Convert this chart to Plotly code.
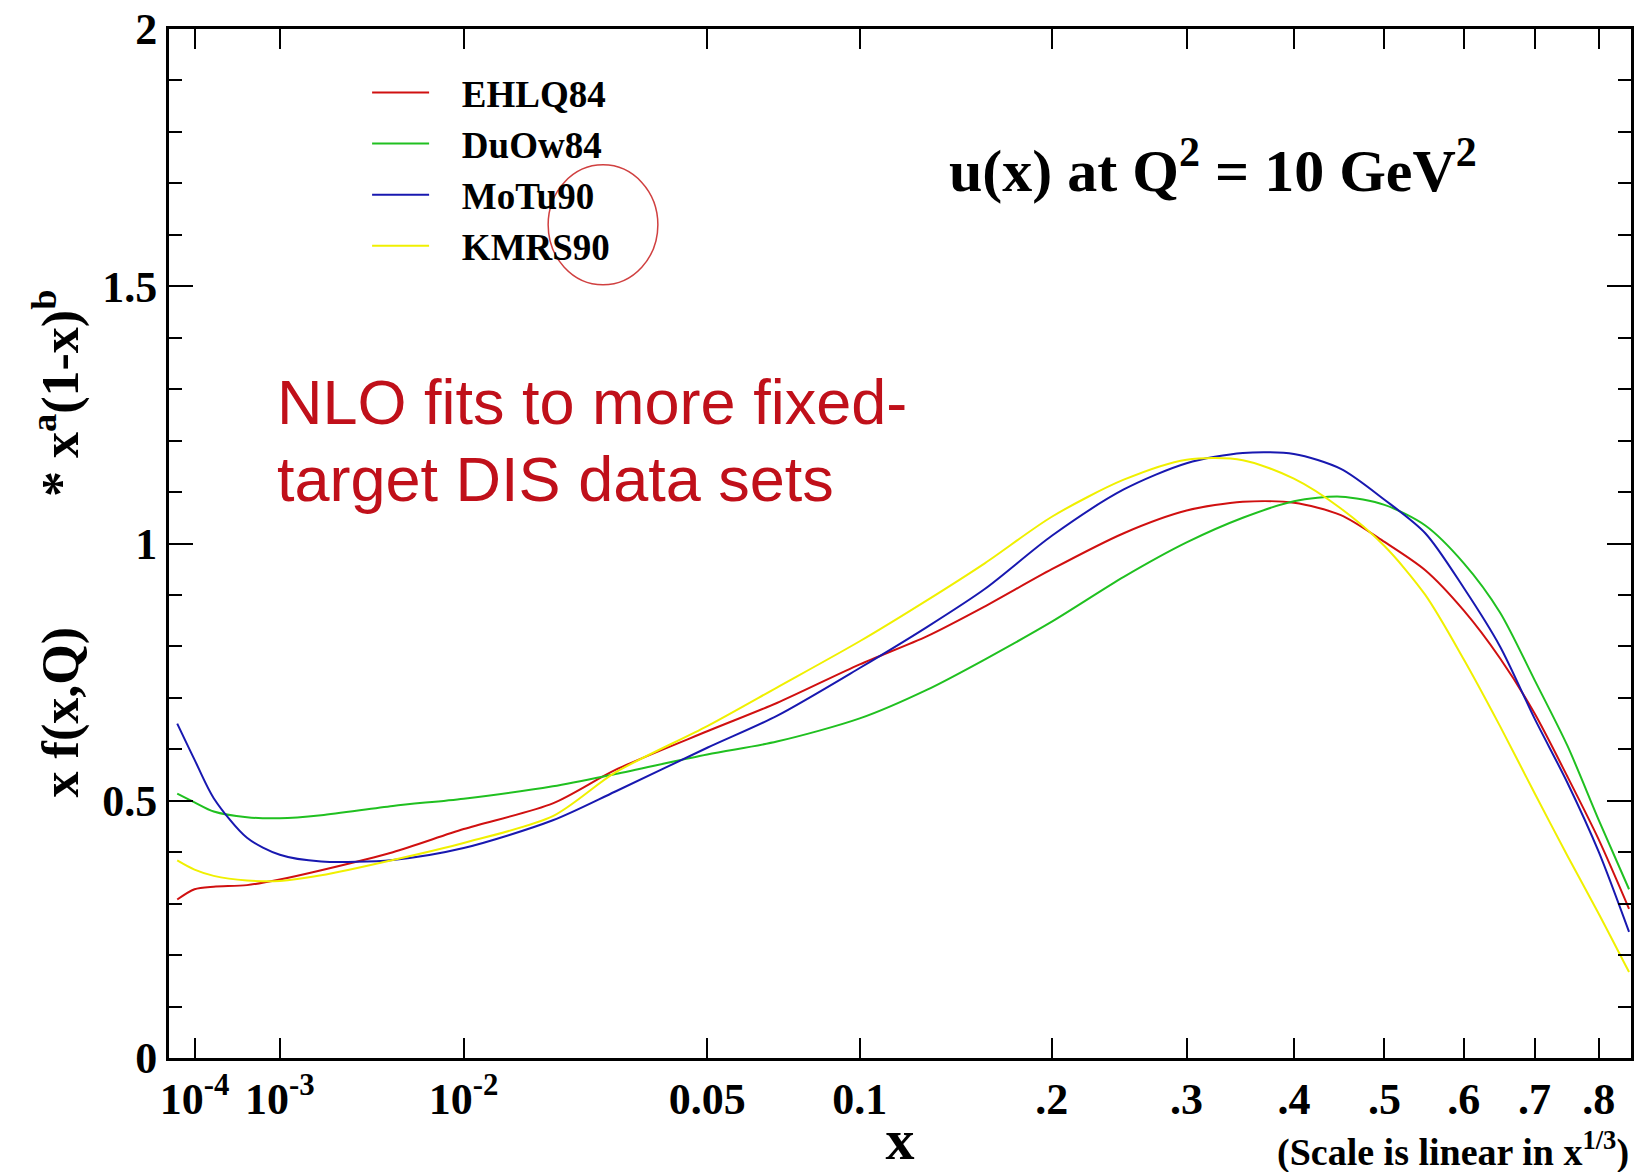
import numpy as np
import plotly.graph_objects as go

# ---- data ----
x_vals = [4.5e-5, 1e-4, 2e-4, 5e-4, 1e-3, 2e-3, 5e-3, 1e-2, 0.02, 0.03, 0.05, 0.07,
          0.1, 0.13, 0.16, 0.2, 0.25, 0.3, 0.35, 0.4, 0.45, 0.5, 0.55, 0.6, 0.65,
          0.7, 0.75, 0.8, 0.85]

ehlq84 = [0.308, 0.328, 0.333, 0.336, 0.347, 0.365, 0.400, 0.445, 0.495, 0.560, 0.635, 0.690,
          0.765, 0.820, 0.878, 0.950, 1.020, 1.064, 1.081, 1.079, 1.055, 1.003, 0.948, 0.870, 0.777,
          0.670, 0.547, 0.424, 0.290]
duow84 = [0.514, 0.497, 0.479, 0.468, 0.466, 0.472, 0.490, 0.504, 0.528, 0.552, 0.590, 0.615,
          0.660, 0.716, 0.775, 0.848, 0.935, 1.002, 1.050, 1.082, 1.091, 1.075, 1.035, 0.962, 0.866,
          0.735, 0.607, 0.462, 0.328]
motu90 = [0.650, 0.580, 0.505, 0.428, 0.395, 0.382, 0.385, 0.408, 0.462, 0.518, 0.603, 0.665,
          0.758, 0.838, 0.912, 1.015, 1.105, 1.156, 1.176, 1.174, 1.145, 1.085, 1.020, 0.914, 0.800,
          0.660, 0.535, 0.400, 0.245]
kmrs90 = [0.384, 0.366, 0.354, 0.345, 0.344, 0.355, 0.385, 0.418, 0.470, 0.555, 0.645, 0.720,
          0.810, 0.890, 0.962, 1.052, 1.124, 1.163, 1.162, 1.126, 1.068, 0.995, 0.900, 0.775, 0.645,
          0.515, 0.393, 0.280, 0.167]

series_names = ["EHLQ84", "DuOw84", "MoTu90", "KMRS90"]
series_values = [ehlq84, duow84, motu90, kmrs90]
series_colors = ["#d01010", "#20c020", "#1818b0", "#f0f000"]

tick_x = [1e-4, 1e-3, 1e-2, 0.05, 0.1, 0.2, 0.3, 0.4, 0.5, 0.6, 0.7, 0.8]
tick_labels = ["10<sup>-4</sup>", "10<sup>-3</sup>", "10<sup>-2</sup>", "0.05", "0.1",
               ".2", ".3", ".4", ".5", ".6", ".7", ".8"]

# scale is linear in x^(1/3)
u = np.cbrt(np.array(x_vals))
tick_u = np.cbrt(np.array(tick_x))

NB = "\u00a0"
fig = go.Figure()
for name, vals, col in zip(series_names, series_values, series_colors):
    fig.add_trace(go.Scatter(x=u, y=vals, mode="lines", name=NB * 3 + name,
                             line=dict(color=col, width=2, shape="spline", smoothing=0.8)))

serif = "Liberation Serif"
W, H = 1639, 1172
L, R, T, B = 169, 5, 29, 114

fig.update_layout(
    width=W, height=H,
    margin=dict(l=L, r=R, t=T, b=B),
    plot_bgcolor="white", paper_bgcolor="white",
    showlegend=True,
    legend=dict(x=0.1355, y=0.968, xanchor="left", yanchor="top",
                bgcolor="rgba(0,0,0,0)", borderwidth=0,
                font=dict(family=serif, size=37, color="black", weight="bold"),
                itemwidth=57, tracegroupgap=0),
    xaxis=dict(range=[0.0304, 0.9485], tickmode="array", tickvals=tick_u, ticktext=tick_labels,
               ticks="inside", ticklen=20, tickwidth=2, tickcolor="black",
               showline=True, linewidth=3, linecolor="black", mirror="ticks",
               showgrid=False, zeroline=False,
               tickfont=dict(family=serif, size=44, color="black", weight="bold"),
               title=dict(text="x", font=dict(family=serif, size=58, color="black", weight="bold"),
                          standoff=0)),
    yaxis=dict(range=[0, 2], tickmode="array", tickvals=[0, 0.5, 1, 1.5, 2],
               ticktext=["0", "0.5", "1", "1.5", "2"],
               ticks="inside", ticklen=24, tickwidth=2, tickcolor="black",
               minor=dict(tickvals=[0.1, 0.2, 0.3, 0.4, 0.6, 0.7, 0.8, 0.9, 1.1, 1.2, 1.3, 1.4,
                                    1.6, 1.7, 1.8, 1.9],
                          ticks="inside", ticklen=13, tickwidth=2, tickcolor="black"),
               showline=True, linewidth=3, linecolor="black", mirror="ticks",
               showgrid=False, zeroline=False,
               tickfont=dict(family=serif, size=44, color="black", weight="bold"),
               title=dict(text="x f(x,Q)" + NB * 10 + "* x<sup>a</sup>(1-x)<sup>b</sup>",
                          font=dict(family=serif, size=52, color="black", weight="bold"),
                          standoff=8)),
)

fig.add_annotation(x=0.6863, y=1.733, xref="x", yref="y", xanchor="center", yanchor="middle",
                   text="u(x) at Q<sup>2</sup> = 10 GeV<sup>2</sup>", showarrow=False,
                   font=dict(family=serif, size=60, color="black", weight="bold"))

red_text = "#c0101a"
fig.add_annotation(x=0.0968, y=1.2755, xref="x", yref="y", xanchor="left", yanchor="middle",
                   text="NLO fits to more fixed-", showarrow=False,
                   font=dict(family="Liberation Sans", size=63, color=red_text))
fig.add_annotation(x=0.0968, y=1.1258, xref="x", yref="y", xanchor="left", yanchor="middle",
                   text="target DIS data sets", showarrow=False,
                   font=dict(family="Liberation Sans", size=63, color=red_text))

fig.add_annotation(x=1.0, y=-0.089, xref="paper", yref="paper", xanchor="right", yanchor="middle",
                   text="(Scale is linear in x<sup>1/3</sup>)", showarrow=False,
                   font=dict(family=serif, size=38, color="black", weight="bold"))

fig.add_shape(type="circle", xref="x", yref="y", x0=0.2685, x1=0.3374, y0=1.503, y1=1.736,
              line=dict(color="#d04040", width=1.5))

fig.write_html("out.html")
